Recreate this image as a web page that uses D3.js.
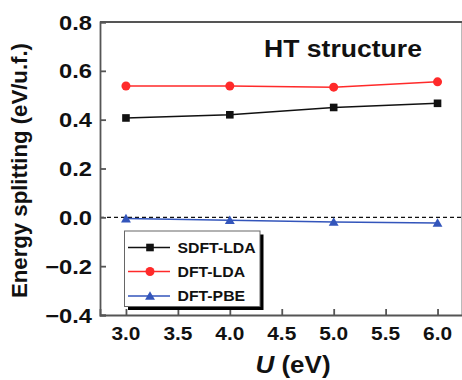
<!DOCTYPE html>
<html><head><meta charset="utf-8">
<script src="https://cdn.jsdelivr.net/npm/d3@7"></script>
<style>body{margin:0;background:#fff}svg{display:block}text{font-family:"Liberation Sans",Arial,sans-serif;font-weight:bold}</style>
</head><body>
<script>
const uValues = [3.0, 4.0, 5.0, 6.0];
const sdftLda = [0.407, 0.420, 0.450, 0.467];
const dftLda = [0.538, 0.538, 0.533, 0.555];
const dftPbe = [-0.005, -0.012, -0.019, -0.023];
const xTicks = [3.0, 3.5, 4.0, 4.5, 5.0, 5.5, 6.0];
const yTicks = [-0.4, -0.2, 0.0, 0.2, 0.4, 0.6, 0.8];
const seriesNames = ["SDFT-LDA", "DFT-LDA", "DFT-PBE"];

const W = 462, H = 380, SX = 1.13;
const m = {l: 100, t: 22, b: 315, r: 463.5};
const svg = d3.select("body").append("svg").attr("width", W).attr("height", H);
const x = d3.scaleLinear().domain([2.75, 6.25]).range([m.l, m.r]);
const y = d3.scaleLinear().domain([-0.4, 0.8]).range([m.b, m.t]);

// zero dashed line
svg.append("line").attr("x1", m.l).attr("x2", m.r).attr("y1", y(0)).attr("y2", y(0))
  .attr("stroke", "#111").attr("stroke-width", 1.2).attr("stroke-dasharray", "4,3");

const series = [
  {name: seriesNames[0], vals: sdftLda, color: "#111", marker: "square"},
  {name: seriesNames[1], vals: dftLda, color: "#ff2a2a", marker: "circle"},
  {name: seriesNames[2], vals: dftPbe, color: "#3355bb", marker: "triangle"}
];
const line = d3.line().x(d => x(d[0])).y(d => y(d[1]));
function marker(g, type, cx, cy, color) {
  if (type === "square") g.append("rect").attr("x", cx - 3.8).attr("y", cy - 3.8).attr("width", 7.6).attr("height", 7.6).attr("fill", color);
  else if (type === "circle") g.append("circle").attr("cx", cx).attr("cy", cy).attr("r", 4.5).attr("fill", color);
  else g.append("path").attr("d", d3.symbol(d3.symbolTriangle, 42)()).attr("transform", `translate(${cx},${cy + 1})`).attr("fill", color);
}
series.forEach(s => {
  const pts = uValues.map((u, i) => [u, s.vals[i]]);
  svg.append("path").attr("d", line(pts)).attr("fill", "none").attr("stroke", s.color).attr("stroke-width", 1.4);
  pts.forEach(p => marker(svg, s.marker, x(p[0]), y(p[1]), s.color));
});

// axes frame
const axisColor = "#555";
const xAxis = svg.append("g").attr("transform", `translate(0,${m.b})`)
  .call(d3.axisBottom(x).tickValues(xTicks).tickSize(-6).tickFormat(""));
const yAxis = svg.append("g").attr("transform", `translate(${m.l},0)`)
  .call(d3.axisLeft(y).tickValues(yTicks).tickSize(-6).tickFormat(""));
[xAxis, yAxis].forEach(a => { a.selectAll("path,line").attr("stroke", axisColor).attr("stroke-width", 1.8); });
svg.append("line").attr("x1", m.l).attr("x2", m.r).attr("y1", m.t).attr("y2", m.t).attr("stroke", axisColor).attr("stroke-width", 1.8);
svg.append("line").attr("x1", m.r - 1).attr("x2", m.r - 1).attr("y1", m.t).attr("y2", m.b).attr("stroke", axisColor).attr("stroke-width", 1.8);

function stext(px, py, str, size, anchor, extra) {
  return svg.append("text").attr("transform", `translate(${px},${py}) scale(${SX},1)${extra || ""}`)
    .attr("text-anchor", anchor).attr("font-size", size).attr("fill", "#111").text(str);
}
xTicks.forEach(t => stext(x(t), 340, d3.format(".1f")(t), 18.5, "middle"));
yTicks.forEach(t => stext(92, y(t) + 7.5, d3.format(".1f")(t), 21, "end"));

// axis titles
svg.append("text").attr("transform", `translate(26.5,170.5) scale(${SX},1) rotate(-90)`)
  .attr("text-anchor", "middle").attr("font-size", 19.5).attr("fill", "#111")
  .attr("textLength", 255).attr("lengthAdjust", "spacingAndGlyphs")
  .text("Energy splitting (eV/u.f.)");
const xt = svg.append("text").attr("transform", `translate(293,373) scale(${SX},1)`)
  .attr("text-anchor", "middle").attr("font-size", 23).attr("fill", "#111");
xt.append("tspan").attr("font-style", "italic").text("U");
xt.append("tspan").text(" (eV)");

stext(343, 56.5, "HT structure", 23.5, "middle");

// legend
const lg = {x0: 124.5, y0: 231, x1: 260, y1: 306.5};
svg.append("rect").attr("x", lg.x0 + 3.5).attr("y", lg.y0 + 3.5).attr("width", lg.x1 - lg.x0).attr("height", lg.y1 - lg.y0).attr("fill", "#000");
svg.append("rect").attr("x", lg.x0).attr("y", lg.y0).attr("width", lg.x1 - lg.x0).attr("height", lg.y1 - lg.y0).attr("fill", "#fff").attr("stroke", "#666").attr("stroke-width", 1);
const rows = [247.5, 271.5, 296];
series.forEach((s, i) => {
  svg.append("line").attr("x1", 128).attr("x2", 170).attr("y1", rows[i]).attr("y2", rows[i]).attr("stroke", s.color).attr("stroke-width", 1.4);
  marker(svg, s.marker, 150, rows[i], s.color);
  stext(177.5, rows[i] + 5, s.name, 14, "start");
});
</script>
</body></html>
